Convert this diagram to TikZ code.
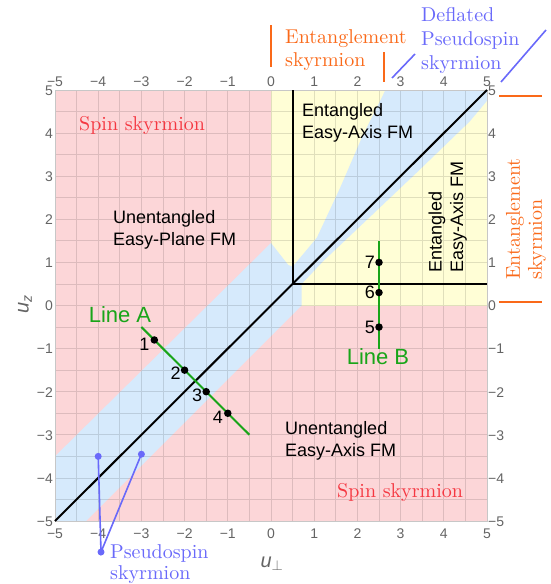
\documentclass[tikz,border=0pt]{standalone}
\usepackage{fontspec}
\newfontfamily\sansf{Liberation Sans}
\newfontfamily\serf{lmroman10-regular.otf}
\definecolor{pinkbg}{RGB}{252,214,216}
\definecolor{yellowbg}{RGB}{255,254,214}
\definecolor{bluebg}{RGB}{214,234,252}
\definecolor{orng}{RGB}{250,105,25}
\definecolor{redlab}{RGB}{245,55,65}
\definecolor{grn}{RGB}{25,165,25}
\definecolor{bluann}{RGB}{105,105,250}
\definecolor{tickgray}{RGB}{100,100,100}
\newcommand\tkfmt[1]{\ifnum#1<0 −\number-#1\else#1\fi}
\begin{document}
\begin{tikzpicture}[x=1pt,y=-1pt,
  ticklab/.style={font=\sansf\fontsize{14}{16}\selectfont, text=tickgray, inner sep=0pt},
  phase/.style={font=\sansf\fontsize{18}{21.5}\selectfont, align=left, inner sep=0pt},
  serlab/.style={font=\serf\fontsize{20}{23}\selectfont, inner sep=0pt, align=left},
  numlab/.style={font=\sansf\fontsize{18}{20}\selectfont, inner sep=0pt},
  linelab/.style={font=\sansf\fontsize{22}{24}\selectfont, text=grn, inner sep=0pt},
  dot/.style={circle, fill=black, inner sep=0pt, minimum size=7.5pt},
  bdot/.style={circle, fill=bluann, inner sep=0pt, minimum size=7pt},
  phaseline/.style={black, line width=2pt},
  greenline/.style={grn, line width=2pt},
  blueline/.style={bluann, line width=1.6pt},
  orangetick/.style={orng, line width=2.2pt},
  gridl/.style={black, opacity=0.12, line width=0.8pt},
  framel/.style={black!22, line width=1pt},
  axlab/.style={font=\sansf\itshape\fontsize{20}{22}\selectfont, text=tickgray, inner sep=0pt}
]
\useasboundingbox (0,0) rectangle (551,584);
\begin{scope}[shift={(271,305.5)}]
\begin{scope}[x=43.2pt,y=43.1pt]
  % regions
  \fill[pinkbg] (-5,-5) rectangle (5,5);
  \fill[yellowbg] (0,0) rectangle (5,5);
  \fill[bluebg] (-5,-5) -- (-4.28,-5) -- (0.71,0) -- (0.71,0.5) -- (1.21,1.03)
     -- (2.18,1.95) -- (3.4,3.11) -- (4.6,4.27) -- (5,4.75) -- (5,5) -- (2.65,5)
     -- (2.1,3.89) -- (1.6,2.73) -- (1.06,1.57) -- (0.5,0.9) -- (0.4,0.94)
     -- (0,1.45) -- (-5,-3.5) -- cycle;
  \draw[gridl] (-5,-5) grid[step=0.5] (5,5);
  \draw[framel] (-5,-5) rectangle (5,5);
  % tick labels
  \foreach \v in {-5,...,5} {
    \node[ticklab, anchor=base] (tt\v) at (\v,5) [yshift=3.5pt] {\tkfmt{\v}};
    \node[ticklab, anchor=base] (tb\v) at (\v,-5) [yshift=-17pt] {\tkfmt{\v}};
    \node[ticklab, anchor=base east] (tl\v) at (-5,\v) [xshift=-2pt, yshift=-5.3pt] {\tkfmt{\v}};
    \node[ticklab, anchor=base west] (tr\v) at (5,\v) [xshift=1pt, yshift=-5.3pt] {\tkfmt{\v}};
  }
  % phase boundaries
  \coordinate (BL) at (-5,-5);
  \coordinate (TR) at (5,5);
  \coordinate (O) at (0.5,0.5);
  \coordinate (OT) at (0.5,5);
  \coordinate (OR) at (5,0.5);
  \draw[phaseline] (BL) -- (TR);
  \draw[phaseline] (OT) -- (O) -- (OR);
  % line A
  \coordinate (A0) at (-3,-0.5);
  \coordinate (A1) at (-0.5,-3);
  \draw[greenline] (A0) -- (A1);
  \node[dot] (p1) at (-2.7,-0.8) {};
  \node[dot] (p2) at (-2,-1.5) {};
  \node[dot] (p3) at (-1.5,-2) {};
  \node[dot] (p4) at (-1,-2.5) {};
  % line B
  \coordinate (B0) at (2.5,1.5);
  \coordinate (B1) at (2.5,-1);
  \draw[greenline] (B0) -- (B1);
  \node[dot] (p7) at (2.5,1) {};
  \node[dot] (p6) at (2.5,0.3) {};
  \node[dot] (p5) at (2.5,-0.5) {};
  % pseudospin markers
  \node[bdot] (ps1) at (-4,-3.5) {};
  \node[bdot] (ps2) at (-3,-3.45) {};
  \node[bdot] (ps0) at (-3.935,-5.72) {};
  \draw[blueline] (ps1.center) -- (ps0.center) -- (ps2.center);
\end{scope}
\end{scope}
% point labels
\node[numlab] (n1) at ([xshift=-10pt,yshift=-4pt]p1) {1};
\node[numlab] (n2) at ([xshift=-9pt,yshift=-3pt]p2) {2};
\node[numlab] (n3) at ([xshift=-9pt,yshift=-4pt]p3) {3};
\node[numlab] (n4) at ([xshift=-10pt,yshift=-4pt]p4) {4};
\node[numlab] (n7) at ([xshift=-9pt]p7) {7};
\node[numlab] (n6) at ([xshift=-9pt]p6) {6};
\node[numlab] (n5) at ([xshift=-9pt]p5) {5};
\node[linelab] (la) at (120,315) {Line A};
\node[linelab] (lb) at (378,357) {Line B};
% phase labels
\node[phase, anchor=west] (eea) at (302,122.6) {Entangled\\Easy-Axis FM};
\node[phase, anchor=west] (uep) at (113,229.6) {Unentangled\\Easy-Plane FM};
\node[phase, anchor=west] (uea) at (285,440.6) {Unentangled\\Easy-Axis FM};
\node[phase, anchor=west, rotate=90] (eea2) at (447.6,273) {Entangled\\Easy-Axis FM};
\node[serlab, text=redlab, anchor=west] (ss1) at (79,125) {Spin skyrmion};
\node[serlab, text=redlab, anchor=west] (ss2) at (337,492) {Spin skyrmion};
% axis labels
\node[axlab, rotate=90] (uz) at (25,304) {u\textsubscript{z}};
\node[axlab] (up) at (272,564) {u$_{\perp}$};
% annotations top
\coordinate (ot1a) at (271,25); \coordinate (ot1b) at (271,67);
\coordinate (ot2a) at (384,52); \coordinate (ot2b) at (384,82);
\draw[orangetick] (ot1a) -- (ot1b);
\draw[orangetick] (ot2a) -- (ot2b);
\coordinate (bd1a) at (392,78); \coordinate (bd1b) at (415,54);
\coordinate (bd2a) at (501,82); \coordinate (bd2b) at (546,30);
\draw[blueline] (bd1a) -- (bd1b);
\draw[blueline] (bd2a) -- (bd2b);
\node[serlab, text=orng, anchor=west] (ent1) at (285,50.5) {Entanglement\\skyrmion};
\node[serlab, text=bluann, anchor=west, font=\serf\fontsize{20}{24}\selectfont] (dps) at (421,40) {Deflated\\Pseudospin\\skyrmion};
% annotations right
\coordinate (or1a) at (499,96); \coordinate (or1b) at (542,96);
\coordinate (or2a) at (499,302); \coordinate (or2b) at (542,302);
\draw[orangetick] (or1a) -- (or1b);
\draw[orangetick] (or2a) -- (or2b);
\node[serlab, text=orng, anchor=west, rotate=90, font=\serf\fontsize{20}{22}\selectfont] (ent2) at (526,280) {Entanglement\\skyrmion};
% pseudospin label
\node[serlab, text=bluann, anchor=west, font=\serf\fontsize{20}{21}\selectfont] (psl) at (110,564) {Pseudospin\\skyrmion};
\end{tikzpicture}
\end{document}
